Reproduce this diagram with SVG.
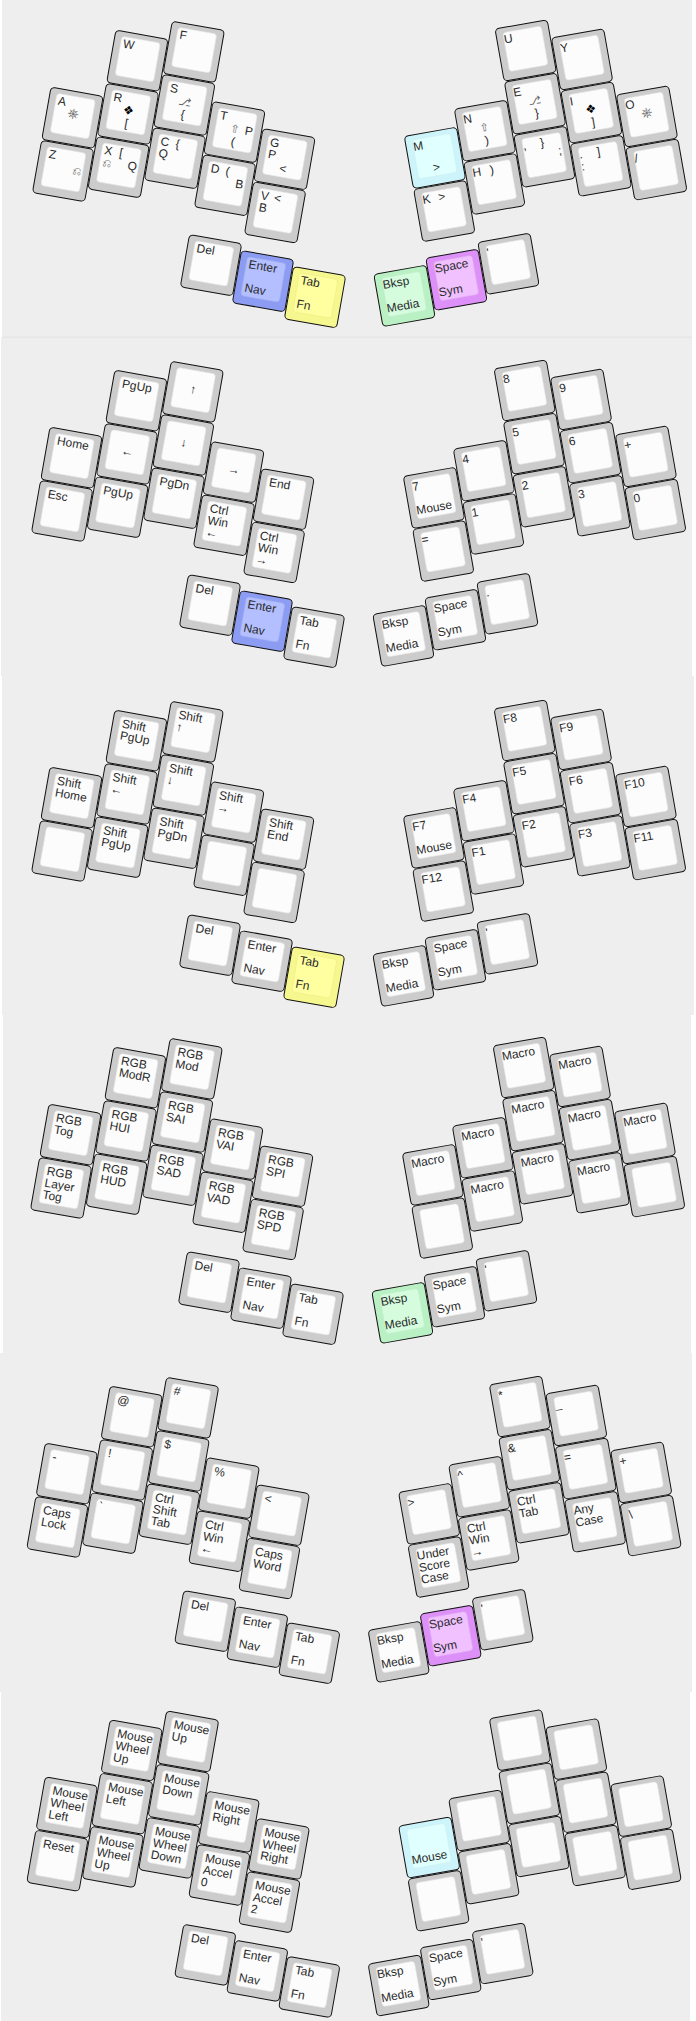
<svg xmlns="http://www.w3.org/2000/svg" width="696" height="2021" viewBox="0 0 696 2021">
<style>
text{font-family:"Liberation Sans","DejaVu Sans",sans-serif;font-size:12px;fill:#2a2a2a}
.c{text-anchor:middle}.r{text-anchor:end}
.m{font-size:11px;fill:#666}
.w{font-size:14px}
.o{fill:var(--o,#ccc);stroke:#111;stroke-width:1}
.i{fill:var(--i,#fcfcfc);stroke:var(--s,#e4e4e4);stroke-width:.6}
.bg{fill:#eee}
.nav{--o:#8c9cf2;--i:#b3bfff;--s:#a3aff0}
.fn{--o:#f7f78f;--i:#ffff9f;--s:#ecec88}
.mou{--o:#cdf3fb;--i:#e0ffff;--s:#cdeff0}
.med{--o:#b9f1c4;--i:#d4fcdd;--s:#c0ecc8}
.sym{--o:#dc90f8;--i:#f0c0ff;--s:#e0aaf0}
</style>
<defs>
<g id="k"><rect class="o" width="53" height="53" rx="4"/><rect class="i" x="7" y="5" width="39" height="39.5" rx="3"/></g>
</defs>
<rect width="696" height="2021" fill="#fff"/>
<g id="panels">
<rect class="bg" x="2" y="0" width="690" height="338"/>
<rect class="bg" x="1" y="338" width="691" height="338"/>
<rect class="bg" x="2" y="676" width="692" height="339"/>
<rect class="bg" x="3" y="1015" width="688" height="338"/>
<rect class="bg" x="0" y="1353" width="692" height="339"/>
<rect class="bg" x="1" y="1692" width="689" height="329"/>
<rect x="2" y="336.5" width="690" height="1.5" fill="#e6e6e6"/>
</g>

<g id="layer1">
<g transform="translate(172.3 21.2) rotate(10)">
<g id="l1-w" transform="translate(-54 18.6)"><use href="#k"/><text x="9.5" y="16">W</text></g>
<g id="l1-f"><use href="#k"/><text x="9.5" y="16">F</text></g>
<g id="l1-a" transform="translate(-108 86)"><use href="#k"/><text x="9.5" y="16">A</text><text class="c m w" x="26.5" y="27">⎈</text></g>
<g id="l1-r" transform="translate(-54 72.6)"><use href="#k"/><text x="9.5" y="16">R</text><text class="c" x="26.5" y="27" style="fill:#000">❖</text><text class="c" x="26.5" y="40">[</text></g>
<g id="l1-s" transform="translate(0 54)"><use href="#k"/><text x="9.5" y="16">S</text><text class="c m" x="26.5" y="27">⎇</text><text class="c" x="26.5" y="40">{</text></g>
<g id="l1-t" transform="translate(54 72)"><use href="#k"/><text x="9.5" y="16">T</text><text class="c m" x="26.5" y="27">⇧</text><text class="r" x="44.5" y="27">P</text><text class="c" x="26.5" y="40">(</text></g>
<g id="l1-g" transform="translate(108 90)"><use href="#k"/><text x="9.5" y="16">G<tspan x="9.5" dy="12">P</tspan></text><text class="c" x="26.5" y="40">&lt;</text></g>
<g id="l1-z" transform="translate(-108 140)"><use href="#k"/><text x="9.5" y="16">Z</text><text class="r m" x="44.5" y="28">⎌</text></g>
<g id="l1-x" transform="translate(-54 126.6)"><use href="#k"/><text x="9.5" y="16">X</text><text class="c" x="26.5" y="16">[</text><text class="m" x="9.5" y="28">⎌</text><text class="r" x="44.5" y="27">Q</text></g>
<g id="l1-c" transform="translate(0 108)"><use href="#k"/><text x="9.5" y="16">C<tspan x="9.5" dy="12">Q</tspan></text><text class="c" x="26.5" y="16">{</text></g>
<g id="l1-d" transform="translate(54 126)"><use href="#k"/><text x="9.5" y="16">D</text><text class="c" x="26.5" y="16">(</text><text class="r" x="44.5" y="27">B</text></g>
<g id="l1-v" transform="translate(108 144)"><use href="#k"/><text x="9.5" y="16">V<tspan x="9.5" dy="12">B</tspan></text><text class="c" x="26.5" y="16">&lt;</text></g>
<g id="l1-del" transform="translate(54 207.1)"><use href="#k"/><text x="9.5" y="16">Del</text></g>
<g id="l1-ent" class="nav" transform="translate(108 213.8)"><use href="#k"/><text x="9.5" y="16">Enter</text><text x="9.5" y="40">Nav</text></g>
<g id="l1-tab" class="fn" transform="translate(162 220.6)"><use href="#k"/><text x="9.5" y="16">Tab</text><text x="9.5" y="40">Fn</text></g>
</g>
<g transform="translate(495 29) rotate(-10)">
<g id="l1-u"><use href="#k"/><text x="7" y="16">U</text></g>
<g id="l1-y" transform="translate(54 18.6)"><use href="#k"/><text x="7" y="16">Y</text></g>
<g id="l1-e" transform="translate(0 54)"><use href="#k"/><text x="7" y="16">E</text><text class="c m" x="26.5" y="27">⎇</text><text class="c" x="26.5" y="40">}</text></g>
<g id="l1-i" transform="translate(54 72.6)"><use href="#k"/><text x="7" y="16">I</text><text class="c" x="26.5" y="27" style="fill:#000">❖</text><text class="c" x="26.5" y="40">]</text></g>
<g id="l1-o" transform="translate(108 86)"><use href="#k"/><text x="7" y="16">O</text><text class="c m w" x="26.5" y="27">⎈</text></g>
<g id="l1-n" transform="translate(-54 72)"><use href="#k"/><text x="7" y="16">N</text><text class="c m" x="26.5" y="27">⇧</text><text class="c" x="26.5" y="40">)</text></g>
<g id="l1-m" class="mou" transform="translate(-108 90)"><use href="#k"/><text x="7" y="16">M</text><text class="c" x="26.5" y="40">&gt;</text></g>
<g id="l1-comma" transform="translate(0 108)"><use href="#k"/><text x="7" y="16">,</text><text class="c" x="26.5" y="16">}</text><text class="r" x="44.5" y="27">;</text></g>
<g id="l1-dot" transform="translate(54 126.6)"><use href="#k"/><text x="7" y="16">.<tspan x="7" dy="12">:</tspan></text><text class="c" x="26.5" y="16">]</text></g>
<g id="l1-sl" transform="translate(108 140)"><use href="#k"/><text x="7" y="16">/</text></g>
<g id="l1-h" transform="translate(-54 126)"><use href="#k"/><text x="7" y="16">H</text><text class="c" x="26.5" y="16">)</text></g>
<g id="l1-kk" transform="translate(-108 144)"><use href="#k"/><text x="7" y="16">K</text><text class="c" x="26.5" y="16">&gt;</text></g>
<g id="l1-apos" transform="translate(-54 207.1)"><use href="#k"/><text x="7" y="16">'</text></g>
<g id="l1-spc" class="sym" transform="translate(-108 213.8)"><use href="#k"/><text x="7" y="16">Space</text><text x="7" y="40">Sym</text></g>
<g id="l1-bks" class="med" transform="translate(-162 220.6)"><use href="#k"/><text x="7" y="16">Bksp</text><text x="7" y="40">Media</text></g>
</g>
</g>

<g id="layer2" transform="translate(-1 340)">
<g transform="translate(172.3 21.2) rotate(10)">
<g id="l2-w" transform="translate(-54 18.6)"><use href="#k"/><text x="9.5" y="16">PgUp</text></g>
<g id="l2-f"><use href="#k"/><text class="c" x="26.5" y="28">↑</text></g>
<g id="l2-a" transform="translate(-108 86)"><use href="#k"/><text x="9.5" y="16">Home</text></g>
<g id="l2-r" transform="translate(-54 72.6)"><use href="#k"/><text class="c" x="26.5" y="28">←</text></g>
<g id="l2-s" transform="translate(0 54)"><use href="#k"/><text class="c" x="26.5" y="28">↓</text></g>
<g id="l2-t" transform="translate(54 72)"><use href="#k"/><text class="c" x="26.5" y="28">→</text></g>
<g id="l2-g" transform="translate(108 90)"><use href="#k"/><text x="9.5" y="16">End</text></g>
<g id="l2-z" transform="translate(-108 140)"><use href="#k"/><text x="9.5" y="16">Esc</text></g>
<g id="l2-x" transform="translate(-54 126.6)"><use href="#k"/><text x="9.5" y="16">PgUp</text></g>
<g id="l2-c" transform="translate(0 108)"><use href="#k"/><text x="9.5" y="16">PgDn</text></g>
<g id="l2-d" transform="translate(54 126)"><use href="#k"/><text x="9.5" y="16">Ctrl<tspan x="9.5" dy="12">Win</tspan><tspan x="9.5" dy="12">←</tspan></text></g>
<g id="l2-v" transform="translate(108 144)"><use href="#k"/><text x="9.5" y="16">Ctrl<tspan x="9.5" dy="12">Win</tspan><tspan x="9.5" dy="12">→</tspan></text></g>
<g id="l2-del" transform="translate(54 207.1)"><use href="#k"/><text x="9.5" y="16">Del</text></g>
<g id="l2-ent" class="nav" transform="translate(108 213.8)"><use href="#k"/><text x="9.5" y="16">Enter</text><text x="9.5" y="40">Nav</text></g>
<g id="l2-tab" transform="translate(162 220.6)"><use href="#k"/><text x="9.5" y="16">Tab</text><text x="9.5" y="40">Fn</text></g>
</g>
<g transform="translate(495 29) rotate(-10)">
<g id="l2-u"><use href="#k"/><text x="7" y="16">8</text></g>
<g id="l2-y" transform="translate(54 18.6)"><use href="#k"/><text x="7" y="16">9</text></g>
<g id="l2-e" transform="translate(0 54)"><use href="#k"/><text x="7" y="16">5</text></g>
<g id="l2-i" transform="translate(54 72.6)"><use href="#k"/><text x="7" y="16">6</text></g>
<g id="l2-o" transform="translate(108 86)"><use href="#k"/><text x="7" y="16">+</text></g>
<g id="l2-n" transform="translate(-54 72)"><use href="#k"/><text x="7" y="16">4</text></g>
<g id="l2-m" transform="translate(-108 90)"><use href="#k"/><text x="7" y="16">7</text><text x="7" y="40">Mouse</text></g>
<g id="l2-comma" transform="translate(0 108)"><use href="#k"/><text x="7" y="16">2</text></g>
<g id="l2-dot" transform="translate(54 126.6)"><use href="#k"/><text x="7" y="16">3</text></g>
<g id="l2-sl" transform="translate(108 140)"><use href="#k"/><text x="7" y="16">0</text></g>
<g id="l2-h" transform="translate(-54 126)"><use href="#k"/><text x="7" y="16">1</text></g>
<g id="l2-kk" transform="translate(-108 144)"><use href="#k"/><text x="7" y="16">=</text></g>
<g id="l2-apos" transform="translate(-54 207.1)"><use href="#k"/><text x="7" y="16">.</text></g>
<g id="l2-spc" transform="translate(-108 213.8)"><use href="#k"/><text x="7" y="16">Space</text><text x="7" y="40">Sym</text></g>
<g id="l2-bks" transform="translate(-162 220.6)"><use href="#k"/><text x="7" y="16">Bksp</text><text x="7" y="40">Media</text></g>
</g>
</g>

<g id="layer3" transform="translate(-1 680)">
<g transform="translate(172.3 21.2) rotate(10)">
<g id="l3-w" transform="translate(-54 18.6)"><use href="#k"/><text x="9.5" y="16">Shift<tspan x="9.5" dy="12">PgUp</tspan></text></g>
<g id="l3-f"><use href="#k"/><text x="9.5" y="16">Shift<tspan x="9.5" dy="12">↑</tspan></text></g>
<g id="l3-a" transform="translate(-108 86)"><use href="#k"/><text x="9.5" y="16">Shift<tspan x="9.5" dy="12">Home</tspan></text></g>
<g id="l3-r" transform="translate(-54 72.6)"><use href="#k"/><text x="9.5" y="16">Shift<tspan x="9.5" dy="12">←</tspan></text></g>
<g id="l3-s" transform="translate(0 54)"><use href="#k"/><text x="9.5" y="16">Shift<tspan x="9.5" dy="12">↓</tspan></text></g>
<g id="l3-t" transform="translate(54 72)"><use href="#k"/><text x="9.5" y="16">Shift<tspan x="9.5" dy="12">→</tspan></text></g>
<g id="l3-g" transform="translate(108 90)"><use href="#k"/><text x="9.5" y="16">Shift<tspan x="9.5" dy="12">End</tspan></text></g>
<g id="l3-z" transform="translate(-108 140)"><use href="#k"/></g>
<g id="l3-x" transform="translate(-54 126.6)"><use href="#k"/><text x="9.5" y="16">Shift<tspan x="9.5" dy="12">PgUp</tspan></text></g>
<g id="l3-c" transform="translate(0 108)"><use href="#k"/><text x="9.5" y="16">Shift<tspan x="9.5" dy="12">PgDn</tspan></text></g>
<g id="l3-d" transform="translate(54 126)"><use href="#k"/></g>
<g id="l3-v" transform="translate(108 144)"><use href="#k"/></g>
<g id="l3-del" transform="translate(54 207.1)"><use href="#k"/><text x="9.5" y="16">Del</text></g>
<g id="l3-ent" transform="translate(108 213.8)"><use href="#k"/><text x="9.5" y="16">Enter</text><text x="9.5" y="40">Nav</text></g>
<g id="l3-tab" class="fn" transform="translate(162 220.6)"><use href="#k"/><text x="9.5" y="16">Tab</text><text x="9.5" y="40">Fn</text></g>
</g>
<g transform="translate(495 29) rotate(-10)">
<g id="l3-u"><use href="#k"/><text x="7" y="16">F8</text></g>
<g id="l3-y" transform="translate(54 18.6)"><use href="#k"/><text x="7" y="16">F9</text></g>
<g id="l3-e" transform="translate(0 54)"><use href="#k"/><text x="7" y="16">F5</text></g>
<g id="l3-i" transform="translate(54 72.6)"><use href="#k"/><text x="7" y="16">F6</text></g>
<g id="l3-o" transform="translate(108 86)"><use href="#k"/><text x="7" y="16">F10</text></g>
<g id="l3-n" transform="translate(-54 72)"><use href="#k"/><text x="7" y="16">F4</text></g>
<g id="l3-m" transform="translate(-108 90)"><use href="#k"/><text x="7" y="16">F7</text><text x="7" y="40">Mouse</text></g>
<g id="l3-comma" transform="translate(0 108)"><use href="#k"/><text x="7" y="16">F2</text></g>
<g id="l3-dot" transform="translate(54 126.6)"><use href="#k"/><text x="7" y="16">F3</text></g>
<g id="l3-sl" transform="translate(108 140)"><use href="#k"/><text x="7" y="16">F11</text></g>
<g id="l3-h" transform="translate(-54 126)"><use href="#k"/><text x="7" y="16">F1</text></g>
<g id="l3-kk" transform="translate(-108 144)"><use href="#k"/><text x="7" y="16">F12</text></g>
<g id="l3-apos" transform="translate(-54 207.1)"><use href="#k"/><text x="7" y="16">'</text></g>
<g id="l3-spc" transform="translate(-108 213.8)"><use href="#k"/><text x="7" y="16">Space</text><text x="7" y="40">Sym</text></g>
<g id="l3-bks" transform="translate(-162 220.6)"><use href="#k"/><text x="7" y="16">Bksp</text><text x="7" y="40">Media</text></g>
</g>
</g>

<g id="layer4" transform="translate(-2 1017)">
<g transform="translate(172.3 21.2) rotate(10)">
<g id="l4-w" transform="translate(-54 18.6)"><use href="#k"/><text x="9.5" y="16">RGB<tspan x="9.5" dy="12">ModR</tspan></text></g>
<g id="l4-f"><use href="#k"/><text x="9.5" y="16">RGB<tspan x="9.5" dy="12">Mod</tspan></text></g>
<g id="l4-a" transform="translate(-108 86)"><use href="#k"/><text x="9.5" y="16">RGB<tspan x="9.5" dy="12">Tog</tspan></text></g>
<g id="l4-r" transform="translate(-54 72.6)"><use href="#k"/><text x="9.5" y="16">RGB<tspan x="9.5" dy="12">HUI</tspan></text></g>
<g id="l4-s" transform="translate(0 54)"><use href="#k"/><text x="9.5" y="16">RGB<tspan x="9.5" dy="12">SAI</tspan></text></g>
<g id="l4-t" transform="translate(54 72)"><use href="#k"/><text x="9.5" y="16">RGB<tspan x="9.5" dy="12">VAI</tspan></text></g>
<g id="l4-g" transform="translate(108 90)"><use href="#k"/><text x="9.5" y="16">RGB<tspan x="9.5" dy="12">SPI</tspan></text></g>
<g id="l4-z" transform="translate(-108 140)"><use href="#k"/><text x="9.5" y="16">RGB<tspan x="9.5" dy="12">Layer</tspan><tspan x="9.5" dy="12">Tog</tspan></text></g>
<g id="l4-x" transform="translate(-54 126.6)"><use href="#k"/><text x="9.5" y="16">RGB<tspan x="9.5" dy="12">HUD</tspan></text></g>
<g id="l4-c" transform="translate(0 108)"><use href="#k"/><text x="9.5" y="16">RGB<tspan x="9.5" dy="12">SAD</tspan></text></g>
<g id="l4-d" transform="translate(54 126)"><use href="#k"/><text x="9.5" y="16">RGB<tspan x="9.5" dy="12">VAD</tspan></text></g>
<g id="l4-v" transform="translate(108 144)"><use href="#k"/><text x="9.5" y="16">RGB<tspan x="9.5" dy="12">SPD</tspan></text></g>
<g id="l4-del" transform="translate(54 207.1)"><use href="#k"/><text x="9.5" y="16">Del</text></g>
<g id="l4-ent" transform="translate(108 213.8)"><use href="#k"/><text x="9.5" y="16">Enter</text><text x="9.5" y="40">Nav</text></g>
<g id="l4-tab" transform="translate(162 220.6)"><use href="#k"/><text x="9.5" y="16">Tab</text><text x="9.5" y="40">Fn</text></g>
</g>
<g transform="translate(495 29) rotate(-10)">
<g id="l4-u"><use href="#k"/><text x="7" y="16">Macro</text></g>
<g id="l4-y" transform="translate(54 18.6)"><use href="#k"/><text x="7" y="16">Macro</text></g>
<g id="l4-e" transform="translate(0 54)"><use href="#k"/><text x="7" y="16">Macro</text></g>
<g id="l4-i" transform="translate(54 72.6)"><use href="#k"/><text x="7" y="16">Macro</text></g>
<g id="l4-o" transform="translate(108 86)"><use href="#k"/><text x="7" y="16">Macro</text></g>
<g id="l4-n" transform="translate(-54 72)"><use href="#k"/><text x="7" y="16">Macro</text></g>
<g id="l4-m" transform="translate(-108 90)"><use href="#k"/><text x="7" y="16">Macro</text></g>
<g id="l4-comma" transform="translate(0 108)"><use href="#k"/><text x="7" y="16">Macro</text></g>
<g id="l4-dot" transform="translate(54 126.6)"><use href="#k"/><text x="7" y="16">Macro</text></g>
<g id="l4-sl" transform="translate(108 140)"><use href="#k"/></g>
<g id="l4-h" transform="translate(-54 126)"><use href="#k"/><text x="7" y="16">Macro</text></g>
<g id="l4-kk" transform="translate(-108 144)"><use href="#k"/></g>
<g id="l4-apos" transform="translate(-54 207.1)"><use href="#k"/><text x="7" y="16">'</text></g>
<g id="l4-spc" transform="translate(-108 213.8)"><use href="#k"/><text x="7" y="16">Space</text><text x="7" y="40">Sym</text></g>
<g id="l4-bks" class="med" transform="translate(-162 220.6)"><use href="#k"/><text x="7" y="16">Bksp</text><text x="7" y="40">Media</text></g>
</g>
</g>

<g id="layer5" transform="translate(-5.7 1356)">
<g transform="translate(172.3 21.2) rotate(10)">
<g id="l5-w" transform="translate(-54 18.6)"><use href="#k"/><text x="9.5" y="16">@</text></g>
<g id="l5-f"><use href="#k"/><text x="9.5" y="16">#</text></g>
<g id="l5-a" transform="translate(-108 86)"><use href="#k"/><text x="9.5" y="16">-</text></g>
<g id="l5-r" transform="translate(-54 72.6)"><use href="#k"/><text x="9.5" y="16">!</text></g>
<g id="l5-s" transform="translate(0 54)"><use href="#k"/><text x="9.5" y="16">$</text></g>
<g id="l5-t" transform="translate(54 72)"><use href="#k"/><text x="9.5" y="16">%</text></g>
<g id="l5-g" transform="translate(108 90)"><use href="#k"/><text x="9.5" y="16">&lt;</text></g>
<g id="l5-z" transform="translate(-108 140)"><use href="#k"/><text x="9.5" y="16">Caps<tspan x="9.5" dy="12">Lock</tspan></text></g>
<g id="l5-x" transform="translate(-54 126.6)"><use href="#k"/><text x="9.5" y="16">`</text></g>
<g id="l5-c" transform="translate(0 108)"><use href="#k"/><text x="9.5" y="16">Ctrl<tspan x="9.5" dy="12">Shift</tspan><tspan x="9.5" dy="12">Tab</tspan></text></g>
<g id="l5-d" transform="translate(54 126)"><use href="#k"/><text x="9.5" y="16">Ctrl<tspan x="9.5" dy="12">Win</tspan><tspan x="9.5" dy="12">←</tspan></text></g>
<g id="l5-v" transform="translate(108 144)"><use href="#k"/><text x="9.5" y="16">Caps<tspan x="9.5" dy="12">Word</tspan></text></g>
<g id="l5-del" transform="translate(54 207.1)"><use href="#k"/><text x="9.5" y="16">Del</text></g>
<g id="l5-ent" transform="translate(108 213.8)"><use href="#k"/><text x="9.5" y="16">Enter</text><text x="9.5" y="40">Nav</text></g>
<g id="l5-tab" transform="translate(162 220.6)"><use href="#k"/><text x="9.5" y="16">Tab</text><text x="9.5" y="40">Fn</text></g>
</g>
<g transform="translate(495 29) rotate(-10)">
<g id="l5-u"><use href="#k"/><text x="7" y="16">*</text></g>
<g id="l5-y" transform="translate(54 18.6)"><use href="#k"/><text x="7" y="16">_</text></g>
<g id="l5-e" transform="translate(0 54)"><use href="#k"/><text x="7" y="16">&amp;</text></g>
<g id="l5-i" transform="translate(54 72.6)"><use href="#k"/><text x="7" y="16">=</text></g>
<g id="l5-o" transform="translate(108 86)"><use href="#k"/><text x="7" y="16">+</text></g>
<g id="l5-n" transform="translate(-54 72)"><use href="#k"/><text x="7" y="16">^</text></g>
<g id="l5-m" transform="translate(-108 90)"><use href="#k"/><text x="7" y="16">&gt;</text></g>
<g id="l5-comma" transform="translate(0 108)"><use href="#k"/><text x="7" y="16">Ctrl<tspan x="7" dy="12">Tab</tspan></text></g>
<g id="l5-dot" transform="translate(54 126.6)"><use href="#k"/><text x="7" y="16">Any<tspan x="7" dy="12">Case</tspan></text></g>
<g id="l5-sl" transform="translate(108 140)"><use href="#k"/><text x="7" y="16">\</text></g>
<g id="l5-h" transform="translate(-54 126)"><use href="#k"/><text x="7" y="16">Ctrl<tspan x="7" dy="12">Win</tspan><tspan x="7" dy="12">→</tspan></text></g>
<g id="l5-kk" transform="translate(-108 144)"><use href="#k"/><text x="7" y="16">Under<tspan x="7" dy="12">Score</tspan><tspan x="7" dy="12">Case</tspan></text></g>
<g id="l5-apos" transform="translate(-54 207.1)"><use href="#k"/><text x="7" y="16">'</text></g>
<g id="l5-spc" class="sym" transform="translate(-108 213.8)"><use href="#k"/><text x="7" y="16">Space</text><text x="7" y="40">Sym</text></g>
<g id="l5-bks" transform="translate(-162 220.6)"><use href="#k"/><text x="7" y="16">Bksp</text><text x="7" y="40">Media</text></g>
</g>
</g>

<g id="layer6" transform="translate(-5.7 1689.7)">
<g transform="translate(172.3 21.2) rotate(10)">
<g id="l6-w" transform="translate(-54 18.6)"><use href="#k"/><text x="9.5" y="16">Mouse<tspan x="9.5" dy="12">Wheel</tspan><tspan x="9.5" dy="12">Up</tspan></text></g>
<g id="l6-f"><use href="#k"/><text x="9.5" y="16">Mouse<tspan x="9.5" dy="12">Up</tspan></text></g>
<g id="l6-a" transform="translate(-108 86)"><use href="#k"/><text x="9.5" y="16">Mouse<tspan x="9.5" dy="12">Wheel</tspan><tspan x="9.5" dy="12">Left</tspan></text></g>
<g id="l6-r" transform="translate(-54 72.6)"><use href="#k"/><text x="9.5" y="16">Mouse<tspan x="9.5" dy="12">Left</tspan></text></g>
<g id="l6-s" transform="translate(0 54)"><use href="#k"/><text x="9.5" y="16">Mouse<tspan x="9.5" dy="12">Down</tspan></text></g>
<g id="l6-t" transform="translate(54 72)"><use href="#k"/><text x="9.5" y="16">Mouse<tspan x="9.5" dy="12">Right</tspan></text></g>
<g id="l6-g" transform="translate(108 90)"><use href="#k"/><text x="9.5" y="16">Mouse<tspan x="9.5" dy="12">Wheel</tspan><tspan x="9.5" dy="12">Right</tspan></text></g>
<g id="l6-z" transform="translate(-108 140)"><use href="#k"/><text x="9.5" y="16">Reset</text></g>
<g id="l6-x" transform="translate(-54 126.6)"><use href="#k"/><text x="9.5" y="16">Mouse<tspan x="9.5" dy="12">Wheel</tspan><tspan x="9.5" dy="12">Up</tspan></text></g>
<g id="l6-c" transform="translate(0 108)"><use href="#k"/><text x="9.5" y="16">Mouse<tspan x="9.5" dy="12">Wheel</tspan><tspan x="9.5" dy="12">Down</tspan></text></g>
<g id="l6-d" transform="translate(54 126)"><use href="#k"/><text x="9.5" y="16">Mouse<tspan x="9.5" dy="12">Accel</tspan><tspan x="9.5" dy="12">0</tspan></text></g>
<g id="l6-v" transform="translate(108 144)"><use href="#k"/><text x="9.5" y="16">Mouse<tspan x="9.5" dy="12">Accel</tspan><tspan x="9.5" dy="12">2</tspan></text></g>
<g id="l6-del" transform="translate(54 207.1)"><use href="#k"/><text x="9.5" y="16">Del</text></g>
<g id="l6-ent" transform="translate(108 213.8)"><use href="#k"/><text x="9.5" y="16">Enter</text><text x="9.5" y="40">Nav</text></g>
<g id="l6-tab" transform="translate(162 220.6)"><use href="#k"/><text x="9.5" y="16">Tab</text><text x="9.5" y="40">Fn</text></g>
</g>
<g transform="translate(495 29) rotate(-10)">
<g id="l6-u"><use href="#k"/></g>
<g id="l6-y" transform="translate(54 18.6)"><use href="#k"/></g>
<g id="l6-e" transform="translate(0 54)"><use href="#k"/></g>
<g id="l6-i" transform="translate(54 72.6)"><use href="#k"/></g>
<g id="l6-o" transform="translate(108 86)"><use href="#k"/></g>
<g id="l6-n" transform="translate(-54 72)"><use href="#k"/></g>
<g id="l6-m" class="mou" transform="translate(-108 90)"><use href="#k"/><text x="7" y="40">Mouse</text></g>
<g id="l6-comma" transform="translate(0 108)"><use href="#k"/></g>
<g id="l6-dot" transform="translate(54 126.6)"><use href="#k"/></g>
<g id="l6-sl" transform="translate(108 140)"><use href="#k"/></g>
<g id="l6-h" transform="translate(-54 126)"><use href="#k"/></g>
<g id="l6-kk" transform="translate(-108 144)"><use href="#k"/></g>
<g id="l6-apos" transform="translate(-54 207.1)"><use href="#k"/><text x="7" y="16">'</text></g>
<g id="l6-spc" transform="translate(-108 213.8)"><use href="#k"/><text x="7" y="16">Space</text><text x="7" y="40">Sym</text></g>
<g id="l6-bks" transform="translate(-162 220.6)"><use href="#k"/><text x="7" y="16">Bksp</text><text x="7" y="40">Media</text></g>
</g>
</g>
</svg>
